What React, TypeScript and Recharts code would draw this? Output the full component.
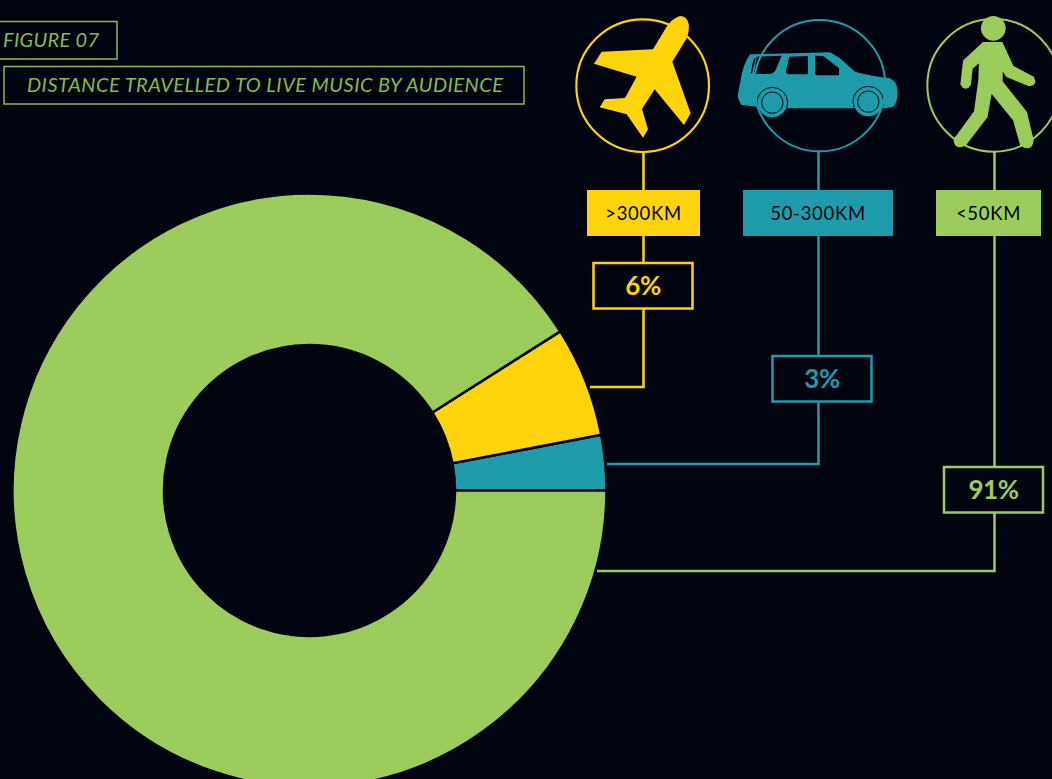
import { PieChart, Pie, Cell } from "recharts";

const BG = "#00040e";
const TITLE_GREEN = "#8abb48";

// slices run counter-clockwise from 3 o'clock
const categories = ["50-300KM", ">300KM", "<50KM"];
const shares = [3, 6, 91];
const colors = ["#1e9cab", "#ffd40d", "#9ccd5c"];

const data = categories.map((name, i) => ({ name, value: shares[i] }));

// tag, percent box and leader line for each category
const callouts = [
  { i: 1, x: 643.5, tag: [587, 113], box: [593.5, 263], endX: 590, endY: 387 },
  { i: 0, x: 818.5, tag: [743, 150], box: [772.5, 356], endX: 607, endY: 464 },
  { i: 2, x: 994.5, tag: [936, 105], box: [944, 467], endX: 597, endY: 571 },
];

const FONT = "Lato, 'Open Sans', sans-serif";

function Plane() {
  return (
    <g transform="translate(570,10) scale(0.3333)">
      <circle cx={218} cy={227} r={199} fill="none" stroke={colors[1]} strokeWidth={6.5} />
      <path
        d="M330 18 Q352 18 357 45 Q358 65 350 85 L307 155 L362 310 L342 345 L254 238 L216 297 L234 358 L219 383 L170 313 L89 292 L104 268 L165 264 L200 200 L72 161 L95 125 L249 118 L290 50 Q308 24 330 18 Z"
        fill={colors[1]}
      />
    </g>
  );
}

function Car() {
  const c = colors[0];
  return (
    <g transform="translate(730,10) scale(0.3333)">
      <path
        d="M60 133 L300 127 L330 145 L375 185 Q420 197 480 205 Q503 215 503 245 Q503 285 485 292 L462 295 L370 295 L172 295 L80 290 L35 285 Q22 270 24 250 L32 210 Q38 165 60 133 Z"
        fill={c}
      />
      <path
        d="M80 140 L155 137 L137 180 Q130 192 118 192 L72 192 Z M62 190 L70 150 L78 142 L66 190 Z M178 140 L234 138 L234 193 L175 193 Q166 190 168 182 Z M255 137 L280 138 L327 175 L327 196 L262 196 Q255 196 255 188 Z"
        fill={BG}
      />
      <circle cx={127} cy={278} r={46} fill={c} stroke={BG} strokeWidth={3} />
      <circle cx={127} cy={278} r={32} fill={c} stroke={BG} strokeWidth={3} />
      <circle cx={415} cy={275} r={46} fill={c} stroke={BG} strokeWidth={3} />
      <circle cx={415} cy={275} r={32} fill={c} stroke={BG} strokeWidth={3} />
      <circle cx={269} cy={227} r={197} fill="none" stroke={c} strokeWidth={6} />
    </g>
  );
}

function Walker() {
  const c = colors[2];
  return (
    <g transform="translate(920,5) scale(0.3333)">
      <circle cx={221} cy={241} r={199} fill="none" stroke={c} strokeWidth={6} />
      <circle cx={220} cy={70} r={37} fill={c} />
      <path
        d="M190 114 L245 114 L278 185 L340 218 L328 241 L262 214 L245 190 L245 230 L318 322 L338 405 L304 422 L282 345 L213 260 L200 335 L135 420 L105 402 L165 320 L178 225 L180 168 L155 190 L150 238 L124 238 L132 168 Z"
        fill={c}
        stroke={c}
        strokeWidth={6}
        strokeLinejoin="round"
      />
      <circle cx={120} cy={408} r={19} fill={c} />
      <circle cx={321} cy={411} r={19} fill={c} />
      <circle cx={137} cy={237} r={14} fill={c} />
      <circle cx={333} cy={229} r={13} fill={c} />
    </g>
  );
}

function Annotations() {
  return (
    <svg
      width={1052}
      height={779}
      style={{ position: "absolute", left: 0, top: 0 }}
      fontFamily={FONT}
    >
      <rect x={-3} y={21.5} width={120} height={37.5} fill="none" stroke={TITLE_GREEN} strokeWidth={1.5} />
      <text x={3} y={47} fill={TITLE_GREEN} fontSize={20} fontStyle="italic" textLength={96}>
        FIGURE 07
      </text>
      <rect x={4} y={66.5} width={520} height={37.5} fill="none" stroke={TITLE_GREEN} strokeWidth={1.5} />
      <text x={27} y={92} fill={TITLE_GREEN} fontSize={20} fontStyle="italic" textLength={476}>
        DISTANCE TRAVELLED TO LIVE MUSIC BY AUDIENCE
      </text>

      {callouts.map((c) => (
        <g key={c.i}>
          <path
            d={`M${c.x} 152 V${c.endY} H${c.endX}`}
            fill="none"
            stroke={colors[c.i]}
            strokeWidth={2.5}
          />
          <rect x={c.tag[0]} y={190} width={c.tag[1]} height={46} fill={colors[c.i]} />
          <text
            x={c.tag[0] + c.tag[1] / 2}
            y={220}
            textAnchor="middle"
            fill={BG}
            fontSize={18.5}
            letterSpacing={0.7}
          >
            {categories[c.i]}
          </text>
          <rect
            x={c.box[0]}
            y={c.box[1]}
            width={99}
            height={45.5}
            fill={BG}
            stroke={colors[c.i]}
            strokeWidth={2.5}
          />
          <text
            x={c.box[0] + 49.5}
            y={c.box[1] + 32}
            textAnchor="middle"
            fill={colors[c.i]}
            fontSize={26}
            fontWeight={700}
            letterSpacing={-0.5}
          >
            {shares[c.i]}%
          </text>
        </g>
      ))}

      <Plane />
      <Car />
      <Walker />
    </svg>
  );
}

export default function App() {
  return (
    <div
      style={{
        position: "absolute",
        left: 0,
        top: 0,
        width: 1052,
        height: 779,
        overflow: "hidden",
        background: BG,
      }}
    >
      <PieChart width={1052} height={779} margin={{ top: 0, right: 0, bottom: 0, left: 0 }}>
        <Pie
          data={data}
          dataKey="value"
          cx={309.5}
          cy={490.5}
          innerRadius={145.5}
          outerRadius={297}
          startAngle={0}
          endAngle={360}
          stroke={BG}
          strokeWidth={2.5}
          isAnimationActive={false}
        >
          {data.map((_, i) => (
            <Cell key={i} fill={colors[i]} />
          ))}
        </Pie>
      </PieChart>
      <Annotations />
    </div>
  );
}
